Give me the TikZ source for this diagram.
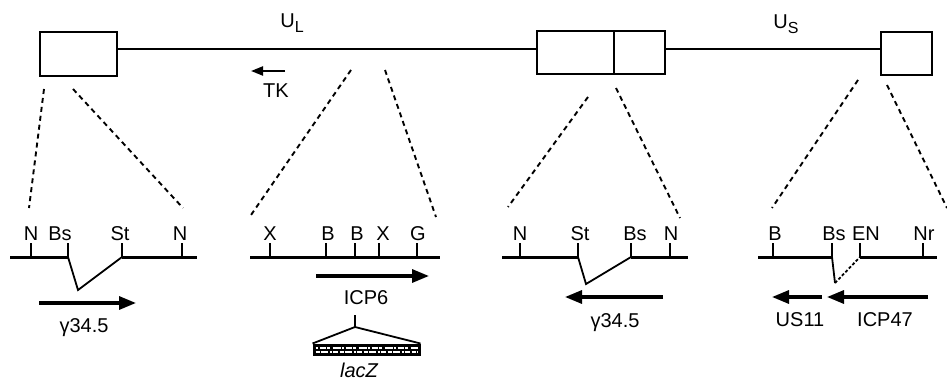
\documentclass[tikz,border=0pt]{standalone}
\usepackage{fontspec}
\setmainfont{Liberation Sans}
\usetikzlibrary{arrows.meta}
\newcommand{\regsub}[1]{\raisebox{-5pt}{\fontsize{16}{18}\selectfont #1}}
\begin{document}
\begin{tikzpicture}[x=1pt,y=-1pt,
  font=\fontsize{20}{23}\selectfont,
  region/.style={draw, line width=2.4pt, inner sep=0pt, outer sep=0pt},
  genome/.style={line width=2.2pt},
  zoomline/.style={line width=1.9pt, dash pattern=on 5pt off 4pt},
  track/.style={line width=3pt},
  tick/.style={line width=1.8pt},
  splice/.style={line width=1.8pt},
  site/.style={anchor=base, inner sep=0pt},
  lbl/.style={anchor=base, inner sep=0pt},
  gene/.style={line width=3.2pt, -{Triangle[length=17pt,width=13pt]}},
  smallgene/.style={line width=2.2pt, -{Triangle[length=12pt,width=9pt]}}]
\useasboundingbox (0,0) rectangle (947,382);

% ---- genome overview ----
\coordinate (mainY) at (0,49);
\node[region, minimum width=77pt, minimum height=44pt] (TRL) at (78.5,54) {};
\node[region, minimum width=128pt, minimum height=43pt] (IR) at (601,52.5) {};
\node[region, minimum width=51pt, minimum height=43pt] (TRS) at (906.5,53.5) {};
\coordinate (IRdivT) at (614,31);
\coordinate (IRdivB) at (614,74);
\draw[region] (IRdivT) -- (IRdivB);
\draw[genome] (TRL.east |- mainY) -- (IR.west |- mainY);
\draw[genome] (IR.east |- mainY) -- (TRS.west |- mainY);

\node[lbl] (UL) at (292,28) {U\regsub{L}};
\node[lbl] (US) at (786,29) {U\regsub{S}};

\coordinate (tkA) at (285,71);
\coordinate (tkB) at (251,71);
\draw[smallgene] (tkA) -- (tkB);
\node[lbl] (TK) at (276,98) {TK};

% ---- zoom lines (dashed) ----
\coordinate (z1a) at (44,89);   \coordinate (z1b) at (29,208);
\coordinate (z2a) at (73,89);   \coordinate (z2b) at (183,208);
\coordinate (z3a) at (351,70);  \coordinate (z3b) at (251,215);
\coordinate (z4a) at (385,70);  \coordinate (z4b) at (436,217);
\coordinate (z5a) at (588,97);  \coordinate (z5b) at (508,207);
\coordinate (z6a) at (616,88);  \coordinate (z6b) at (680,218);
\coordinate (z7a) at (858,80);  \coordinate (z7b) at (772,208);
\coordinate (z8a) at (887,85);  \coordinate (z8b) at (947,208);
\foreach \i in {1,...,8} \draw[zoomline] (z\i a) -- (z\i b);

% ---- track 1: gamma34.5 (TRL) ----
\coordinate (a0) at (10,257);  \coordinate (a1) at (31,257);
\coordinate (a2) at (68,257);  \coordinate (a3) at (122,257);
\coordinate (a4) at (182,257); \coordinate (a5) at (197,257);
\coordinate (av) at (78,290);
\draw[track] (a0) -- (a2);
\draw[track] (a3) -- (a5);
\foreach \p in {a1,a2,a3,a4} \draw[tick] (\p) -- ++(0,-14);
\draw[splice] (a2) -- (av) -- (a3);
\node[site] (a1l) at (31,240) {N};
\node[site] (a2l) at (60,240) {Bs};
\node[site] (a3l) at (120,240) {St};
\node[site] (a4l) at (180,240) {N};
\coordinate (g1a) at (39,303); \coordinate (g1b) at (136,303);
\draw[gene] (g1a) -- (g1b);
\node[lbl] (g1l) at (84,332) {γ34.5};

% ---- track 2: ICP6 (UL) ----
\coordinate (b0) at (250,257); \coordinate (b1) at (270,257);
\coordinate (b2) at (326,257); \coordinate (b3) at (355,257);
\coordinate (b4) at (379,257); \coordinate (b5) at (417,257);
\coordinate (b6) at (440,257);
\draw[track] (b0) -- (b6);
\foreach \p in {b1,b2,b3,b4,b5} \draw[tick] (\p) -- ++(0,-14);
\node[site] (b1l) at (270,240) {X};
\node[site] (b2l) at (328,240) {B};
\node[site] (b3l) at (357,240) {B};
\node[site] (b4l) at (383,240) {X};
\node[site] (b5l) at (418,240) {G};
\coordinate (g2a) at (316,276); \coordinate (g2b) at (429,276);
\draw[gene] (g2a) -- (g2b);
\node[lbl] (g2l) at (366,304) {ICP6};
\coordinate (ins0) at (355,315);
\coordinate (ins1) at (355,327);
\node[fill=black, draw=black, line width=1pt, inner sep=0pt,
      minimum width=107pt, minimum height=11pt] (lacZbox) at (366.5,349.5) {};
\draw[tick] (ins0) -- (ins1);
\draw[splice] (lacZbox.north west) -- (ins1) -- (lacZbox.north east);
\draw[white, line width=1.3pt, dash pattern=on 4pt off 1pt on 7pt off 2pt on 2pt off 1pt on 5pt off 2pt]
  ([xshift=3pt,yshift=-2.5pt]lacZbox.west) -- ([xshift=-3pt,yshift=-2.5pt]lacZbox.east);
\draw[white, line width=1.1pt, dash pattern=on 2pt off 2pt on 6pt off 1pt on 3pt off 3pt on 8pt off 1pt]
  ([xshift=3pt,yshift=1.5pt]lacZbox.west) -- ([xshift=-3pt,yshift=1.5pt]lacZbox.east);
\node[lbl, font=\fontsize{20}{23}\selectfont\itshape] (lacZl) at (359,377) {lacZ};

% ---- track 3: gamma34.5 (IR) ----
\coordinate (c0) at (502,257); \coordinate (c1) at (520,257);
\coordinate (c2) at (578,257); \coordinate (c3) at (631,257);
\coordinate (c4) at (670,257); \coordinate (c5) at (688,257);
\coordinate (cv) at (586,284);
\draw[track] (c0) -- (c2);
\draw[track] (c3) -- (c5);
\foreach \p in {c1,c2,c3,c4} \draw[tick] (\p) -- ++(0,-14);
\draw[splice] (c2) -- (cv) -- (c3);
\node[site] (c1l) at (520,240) {N};
\node[site] (c2l) at (580,240) {St};
\node[site] (c3l) at (635,240) {Bs};
\node[site] (c4l) at (671,240) {N};
\coordinate (g3a) at (663,297); \coordinate (g3b) at (565,297);
\draw[gene] (g3a) -- (g3b);
\node[lbl] (g3l) at (615,327) {γ34.5};

% ---- track 4: US11 / ICP47 (TRS) ----
\coordinate (d0) at (758,257); \coordinate (d1) at (773,257);
\coordinate (d2) at (832,257); \coordinate (d3) at (860,257);
\coordinate (d4) at (923,257); \coordinate (d5) at (937,257);
\coordinate (dv) at (835,283);
\draw[track] (d0) -- (d2);
\draw[track] (d3) -- (d5);
\foreach \p in {d1,d2,d3,d4} \draw[tick] (\p) -- ++(0,-14);
\draw[splice] (d2) -- (dv);
\draw[splice, dash pattern=on 3pt off 2pt] (dv) -- (d3);
\node[site] (d1l) at (775,240) {B};
\node[site] (d2l) at (834,240) {Bs};
\node[site] (d3l) at (866,240) {EN};
\node[site] (d4l) at (924,240) {Nr};
\coordinate (g4a) at (822,297); \coordinate (g4b) at (772,297);
\draw[gene] (g4a) -- (g4b);
\coordinate (g5a) at (928,297); \coordinate (g5b) at (827,297);
\draw[gene] (g5a) -- (g5b);
\node[lbl] (g4l) at (800,326) {US11};
\node[lbl] (g5l) at (885,326) {ICP47};
\end{tikzpicture}
\end{document}
